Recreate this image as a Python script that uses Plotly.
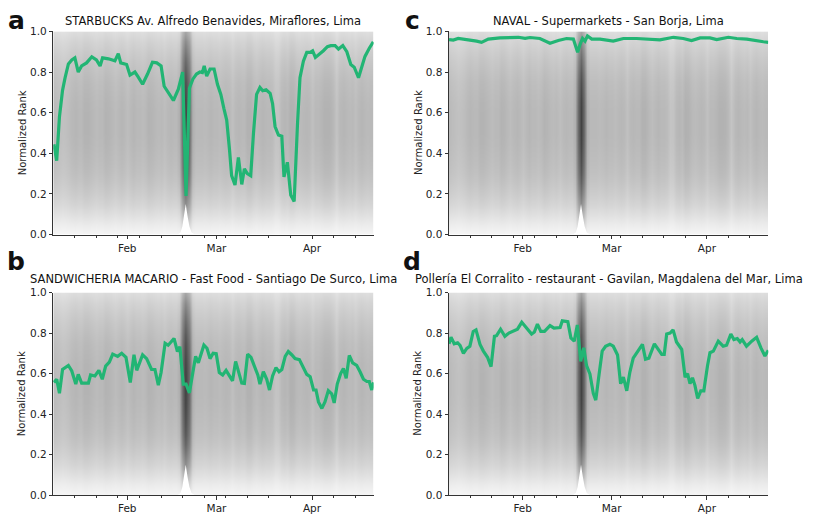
import pandas as pd
import plotly.graph_objects as go

START = pd.Timestamp("2020-01-08")

# ---------------- data (day offsets from 2020-01-08, normalized rank) ----------------
a_days = [0.2,1.1,2,3,3.8,4.9,6,7,8.1,9.2,10.8,12.5,14,15.2,16,17.9,20,21.1,21.9,23.8,24.9,26.5,27.6,29,30.6,
          32.2,33.6,35,36,37.3,39,40.6,42,43.1,44.2,45.3,46.5,47.6,48.4,49,49.8,50.9,52.2,53.3,54.4,55.4,56.3,
          57.2,57.9,59,60.1,61.2,62.05,63,64.1,65,66,67.1,68,69.1,70.4,71.2,72,73.1,74.2,74.9,76,77.1,78.2,79.3,
          80.1,81.2,82.3,83.4,84.2,85.1,86.4,87.7,89,90.1,91.5,92.6,94,95.3,96.6,97.7,99.1,100.1,101.2,102.6,103.9]
a_vals = [0.444,0.364,0.58,0.71,0.77,0.84,0.86,0.87,0.80,0.83,0.845,0.875,0.86,0.83,0.87,0.865,0.855,0.89,0.845,
          0.837,0.785,0.80,0.775,0.74,0.79,0.848,0.845,0.83,0.73,0.70,0.66,0.716,0.80,0.19,0.72,0.765,0.79,0.80,
          0.797,0.83,0.78,0.815,0.815,0.74,0.69,0.62,0.564,0.42,0.29,0.244,0.38,0.247,0.324,0.30,0.29,0.50,0.69,
          0.724,0.708,0.713,0.695,0.644,0.532,0.49,0.484,0.284,0.356,0.195,0.163,0.548,0.772,0.853,0.897,0.897,
          0.904,0.872,0.888,0.905,0.925,0.93,0.93,0.913,0.93,0.90,0.837,0.824,0.772,0.828,0.877,0.917,0.949]

b_days = [0.2,1.1,2,3,4.9,6,7.3,8.1,9.2,11.4,12.1,13.5,14.8,15.9,17,18.2,19.3,20.9,22.2,23.6,25,26.2,27.1,29,30.3,
          31.9,33,34.1,35,36.3,37.3,39.2,40.3,41.1,42.2,43.1,44.2,45.1,46.2,47.1,48.9,49.9,50.9,51.9,52.9,53.9,55,
          56.1,57.1,58.2,59.2,60.1,61.2,62.05,63.1,64.2,65.3,66.4,67.1,68.2,69.3,70.2,71.2,72.3,73.3,74.2,75.3,
          76.3,77.4,78.5,79.9,81.2,82.3,83.4,84.5,85.3,86.1,87.2,88.2,89.3,90.4,91.2,92.2,93.3,94.2,95.1,96.1,
          97.2,98.5,99.6,100.7,101.8,102.6,103.4,104]
b_vals = [0.556,0.572,0.503,0.62,0.64,0.613,0.548,0.596,0.553,0.553,0.593,0.588,0.616,0.572,0.637,0.656,0.696,
          0.685,0.70,0.68,0.556,0.693,0.616,0.693,0.674,0.62,0.62,0.543,0.605,0.75,0.74,0.773,0.709,0.733,0.548,
          0.548,0.505,0.596,0.685,0.653,0.741,0.725,0.674,0.70,0.698,0.605,0.593,0.616,0.588,0.564,0.66,0.613,
          0.553,0.551,0.696,0.68,0.637,0.593,0.548,0.609,0.572,0.519,0.588,0.629,0.609,0.62,0.685,0.709,0.693,
          0.674,0.669,0.632,0.596,0.584,0.519,0.519,0.46,0.428,0.46,0.516,0.50,0.455,0.548,0.60,0.625,0.577,0.69,
          0.653,0.641,0.609,0.572,0.561,0.561,0.519,0.556]

c_days = [0,1.4,3,5.8,9,10.6,12.8,16.6,19.9,22.6,24.8,26.4,29.6,32.9,35.6,38.3,40.5,41.3,41.9,42.7,43.5,44.3,45.1,
          46.5,49.2,53.5,56.8,61.1,65.5,68.7,73.1,76.3,79,81.8,85,87.2,91,93.7,97,100.2,102.4,104]
c_vals = [0.96,0.957,0.965,0.96,0.952,0.946,0.962,0.968,0.968,0.971,0.966,0.970,0.965,0.942,0.955,0.965,0.962,
          0.925,0.897,0.936,0.965,0.952,0.978,0.962,0.962,0.952,0.965,0.965,0.962,0.958,0.971,0.965,0.955,0.968,
          0.968,0.96,0.971,0.965,0.962,0.952,0.949,0.946]

d_days = [0,0.65,1.7,2.8,3.6,4.7,5.8,6.8,7.9,8.8,10.1,11.2,12.6,13.7,14.8,15.5,16.8,18.2,19.5,20.9,22.3,23.7,25.3,
          26.9,27.8,28.8,29.9,31.1,32.9,34.2,36.2,36.9,38.7,39.7,40.8,41.8,42.9,43.9,44.8,45.9,47,47.8,48.9,49.9,
          51,52.4,53.5,54.9,55.9,56.8,57.9,58.9,60,61.7,63,64,65.1,66.9,68.4,69.3,70.1,70.9,72,73,74.1,75.8,76.9,
          77.7,78.5,79.3,80.1,81,82,83,84.2,85,86.1,87.7,89.3,90.4,91.8,92.8,93.9,94.8,95.5,96.9,98.6,100.2,
          101.6,102.9,104]
d_vals = [0.747,0.78,0.747,0.752,0.739,0.70,0.724,0.735,0.808,0.816,0.744,0.711,0.679,0.634,0.784,0.787,0.819,
          0.784,0.80,0.808,0.819,0.853,0.821,0.795,0.805,0.844,0.808,0.808,0.837,0.824,0.827,0.86,0.856,0.776,
          0.76,0.84,0.66,0.727,0.639,0.598,0.502,0.469,0.598,0.711,0.735,0.745,0.735,0.692,0.55,0.582,0.515,
          0.606,0.676,0.711,0.744,0.671,0.676,0.747,0.711,0.695,0.695,0.795,0.80,0.816,0.756,0.719,0.582,0.60,
          0.55,0.579,0.542,0.477,0.515,0.515,0.639,0.703,0.711,0.76,0.735,0.74,0.795,0.768,0.773,0.756,0.768,
          0.735,0.76,0.779,0.727,0.687,0.715]

# background density of all places (gray level per rank level, per-day darkness factor)
rank_levels = [0.0,0.05,0.1,0.15,0.2,0.25,0.3,0.35,0.4,0.45,0.5,0.55,0.6,0.65,0.7,0.75,0.8,0.85,0.9,0.95,0.98,1.0]
bg_gray = [246,236,224,213,205,198,193,190,188,186,185,185,185,186,188,190,194,199,205,212,218,222]
bg_days = list(range(-1, 105))
bg_factor = [1.0,1.0,0.95,0.92,0.88,0.9,0.94,1.0,1.04,1.0,
             1.0,1.08,1.08,1.04,1.0,0.96,1.0,1.0,1.08,1.06,
             1.0,0.95,1.0,1.04,1.0,0.93,1.0,1.05,1.0,1.0,
             0.96,1.0,1.08,1.05,1.0,0.97,1.0,0.93,1.0,1.03,
             1.0,1.0,1.15,2.1,2.7,2.1,1.15,1.0,1.0,1.0,
             0.97,1.0,1.04,1.0,1.0,0.96,1.0,1.03,1.0,0.9,
             1.0,1.03,1.0,1.0,1.1,1.1,1.0,0.95,1.0,1.04,
             1.0,1.0,0.96,0.84,0.86,1.0,1.04,1.0,1.12,1.1,
             1.0,0.97,1.0,1.03,1.0,0.9,1.0,1.0,1.04,1.1,
             1.1,1.08,1.0,0.84,1.0,1.04,1.0,0.97,1.0,0.92,
             1.0,1.04,1.0,0.97,1.0,1.0]
gap_days = [40.3,41.3,41.9,42.5,43.0,43.6,44.2,44.9,46.0]
gap_vals = [0.0,0.01,0.04,0.09,0.15,0.09,0.04,0.01,0.0]

titles = ["STARBUCKS Av. Alfredo Benavides, Miraflores, Lima",
          "SANDWICHERIA MACARIO - Fast Food - Santiago De Surco, Lima",
          "NAVAL - Supermarkets - San Borja, Lima",
          "Pollería El Corralito - restaurant - Gavilan, Magdalena del Mar, Lima"]
letters = ["a", "b", "c", "d"]
month_ticks = ["2020-02-01", "2020-03-01", "2020-04-01"]
month_labels = ["Feb", "Mar", "Apr"]
week_ticks = ["2020-01-15","2020-01-22","2020-01-29","2020-02-05","2020-02-12","2020-02-19","2020-02-26",
              "2020-03-04","2020-03-11","2020-03-18","2020-03-25","2020-04-08","2020-04-15"]
y_ticks = [0.0, 0.2, 0.4, 0.6, 0.8, 1.0]

# ---------------- figure ----------------
W, H = 815, 520
FONT = "DejaVu Sans"
GREEN = "#22b574"

def dates(days):
    return [START + pd.Timedelta(days=float(d)) for d in days]

z = [[min(1.0, (255 - g) / 255.0 * f) for f in bg_factor] for g in bg_gray]

# panel geometry in pixels: (left, right, top, bottom, letter_y, title_y)
panels = [
    (53.3, 373.6, 26.0, 234.0, 15, 15.5),     # a
    (53.3, 373.6, 293.3, 500.7, 262, 279),    # b
    (449.0, 768.3, 26.0, 234.0, 15, 15.5),    # c
    (449.0, 768.3, 293.3, 500.7, 262, 279),   # d
]
series = [(a_days, a_vals), (b_days, b_vals), (c_days, c_vals), (d_days, d_vals)]

fig = go.Figure()
annotations = []
layout_axes = {}
for k, ((l, r, t, b, ly, ty), (dd, vv)) in enumerate(zip(panels, series)):
    n = k + 1
    xa = "x" if n == 1 else f"x{n}"
    ya = "y" if n == 1 else f"y{n}"
    fig.add_trace(go.Heatmap(x=dates(bg_days), y=rank_levels, z=z, zmin=0, zmax=1,
                             colorscale=[[0, "#ffffff"], [1, "#000000"]], showscale=False,
                             zsmooth="best", hoverinfo="skip", xaxis=xa, yaxis=ya))
    fig.add_trace(go.Scatter(x=dates(gap_days), y=gap_vals, mode="lines", fill="toself",
                             fillcolor="#ffffff", line=dict(width=0, color="#ffffff"),
                             hoverinfo="skip", showlegend=False, xaxis=xa, yaxis=ya))
    fig.add_trace(go.Scatter(x=dates(dd), y=vv, mode="lines",
                             line=dict(color=GREEN, width=3.2), showlegend=False,
                             xaxis=xa, yaxis=ya))
    xkey = "xaxis" if n == 1 else f"xaxis{n}"
    ykey = "yaxis" if n == 1 else f"yaxis{n}"
    layout_axes[xkey] = dict(
        domain=[l / W, r / W], anchor=ya, range=["2020-01-08", "2020-04-21"],
        tickmode="array", tickvals=month_ticks, ticktext=month_labels,
        ticks="outside", ticklen=3.5, tickcolor="#333", tickwidth=1,
        showline=True, linecolor="#333", linewidth=1, showgrid=False, zeroline=False,
        tickfont=dict(family=FONT, size=10.5, color="#222"),
        minor=dict(tickmode="array", tickvals=week_ticks, ticks="outside", ticklen=2,
                   tickcolor="#333", showgrid=False),
    )
    layout_axes[ykey] = dict(
        domain=[1 - b / H, 1 - t / H], anchor=xa, range=[0, 1],
        tickmode="array", tickvals=y_ticks, ticktext=[f"{v:.1f}" for v in y_ticks],
        ticks="outside", ticklen=3.5, tickcolor="#333", tickwidth=1,
        showline=True, linecolor="#333", linewidth=1, showgrid=False, zeroline=False,
        tickfont=dict(family=FONT, size=10.5, color="#222"),
    )
    cx = (l + r) / 2
    annotations.append(dict(text=titles[k], x=cx / W, y=1 - ty / H, xref="paper", yref="paper",
                            xanchor="center", yanchor="middle", showarrow=False,
                            font=dict(family=FONT, size=11.5, color="#111")))
    annotations.append(dict(text="Normalized Rank", x=(l - 31) / W, y=1 - ((t + b) / 2) / H,
                            xref="paper", yref="paper", xanchor="center", yanchor="middle",
                            textangle=-90, showarrow=False,
                            font=dict(family=FONT, size=10, color="#222")))
    annotations.append(dict(text=f"<b>{letters[k]}</b>", x=(l - 37) / W, y=1 - ly / H,
                            xref="paper", yref="paper", xanchor="center", yanchor="middle",
                            showarrow=False, font=dict(family=FONT, size=25, color="#111")))

fig.update_layout(width=W, height=H, margin=dict(l=0, r=0, t=0, b=0),
                  paper_bgcolor="white", plot_bgcolor="white", showlegend=False,
                  annotations=annotations, **layout_axes)
fig.write_html("out.html")
